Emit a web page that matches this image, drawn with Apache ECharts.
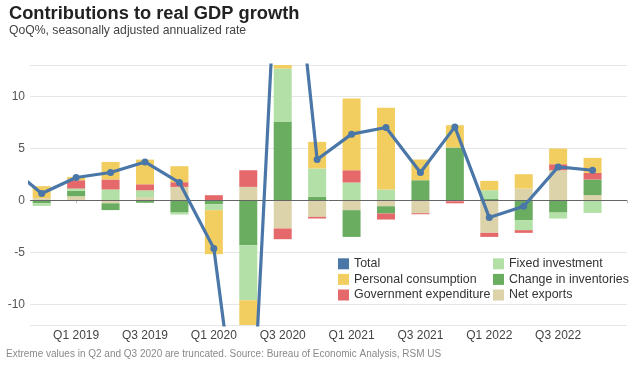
<!DOCTYPE html>
<html><head><meta charset="utf-8">
<script src="https://cdn.jsdelivr.net/npm/echarts@6/dist/echarts.min.js"></script>
<style>html,body{margin:0;padding:0;background:#fff}#c{width:639px;height:367px}</style>
</head><body><div id="c"></div>
<script>
const quarters = ['Q3 2018','Q4 2018','Q1 2019','Q2 2019','Q3 2019','Q4 2019','Q1 2020','Q2 2020','Q3 2020','Q4 2020','Q1 2021','Q2 2021','Q3 2021','Q4 2021','Q1 2022','Q2 2022','Q3 2022','Q4 2022','Q1 2023'];
const labeledQuarters = ['Q1 2019','Q3 2019','Q1 2020','Q3 2020','Q1 2021','Q3 2021','Q1 2022','Q3 2022'];
const total = [3.4, 0.64, 2.18, 2.66, 3.68, 1.7, -4.65, -29.9, 35.3, 3.91, 6.35, 6.99, 2.66, 7.05, -1.67, -0.58, 3.2, 2.88, null];
const personalConsumption = [null, 1.15, 0.32, 1.69, 2.37, 1.54, -4.23, -23.2, 26.4, 2.56, 6.9, 7.85, 1.99, 2.14, 0.9, 1.38, 1.51, 1.44, null];
const governmentExpenditure = [null, 0, 0.8, 0.96, 0.58, 0.45, 0.48, 1.6, -1.03, -0.16, 1.18, -0.58, -0.1, -0.2, -0.39, -0.26, 0.58, 0.64, null];
const fixedInvestment = [null, -0.25, 0.22, 1.03, 0.65, -0.19, -0.58, -5.29, 5.13, 2.73, 1.7, 1.03, 0, 0, 0.8, -0.96, -0.57, -1.22, null];
const changeInInventories = [null, -0.3, 0.52, -0.65, -0.25, -1.19, -0.38, -4.33, 7.53, 0.32, -2.57, -0.7, 1.92, 5.07, 0.16, -1.92, -1.19, 1.51, null];
const netExports = [null, 0.2, 0.38, -0.3, 0.3, 1.28, 0, 1.28, -2.72, -1.6, -0.96, -0.58, -1.25, -0.1, -3.14, 1.12, 2.88, 0.48, null];
const yTicks = [-10, -5, 0, 5, 10];

const FONT = 'Liberation Sans, Arial, sans-serif';
const colors = {
  'Total': '#4a77a8',
  'Personal consumption': '#f2cd60',
  'Government expenditure': '#e5696b',
  'Fixed investment': '#b2e0a6',
  'Change in inventories': '#6aad61',
  'Net exports': '#dcd3aa'
};
// value first, quarter index second, so the value dimension is the stacked one
const pts = arr => arr.map((v, i) => [v, i]);
const tickIdx = quarters.map((q, i) => i).filter(i => i > 0);
const labelIdx = labeledQuarters.map(q => quarters.indexOf(q));

function barSeries(name, arr) {
  return {
    name, type: 'bar', stack: 'c', data: pts(arr), encode: { x: 1, y: 0 }, barWidth: 18,
    itemStyle: { color: colors[name] }, z: 2, clip: true
  };
}

const legendText = { fontFamily: FONT, fontSize: 12.4, color: '#333', lineHeight: 15.6 };
const chart = echarts.init(document.getElementById('c'), null, { renderer: 'canvas' });
chart.setOption({
  animation: false,
  textStyle: { fontFamily: FONT },
  title: [
    { text: 'Contributions to real GDP growth', left: 9, top: 5, padding: 0,
      textStyle: { fontFamily: FONT, fontSize: 18.3, fontWeight: 'bold', color: '#222' } },
    { text: 'QoQ%, seasonally adjusted annualized rate', left: 9, top: 25, padding: 0,
      textStyle: { fontFamily: FONT, fontSize: 12.2, fontWeight: 'normal', color: '#444' } },
    { text: 'Extreme values in Q2 and Q3 2020 are truncated. Source: Bureau of Economic Analysis, RSM US', left: 6, top: 349, padding: 0,
      textStyle: { fontFamily: FONT, fontSize: 10, fontWeight: 'normal', color: '#8a8a8a' } }
  ],
  legend: [
    { data: ['Total', 'Personal consumption', 'Government expenditure'], orient: 'vertical',
      left: 338, top: 256, padding: 0, icon: 'rect', itemWidth: 11, itemHeight: 11, itemGap: 0,
      textStyle: legendText },
    { data: ['Fixed investment', 'Change in inventories', 'Net exports'], orient: 'vertical',
      left: 493, top: 256, padding: 0, icon: 'rect', itemWidth: 11, itemHeight: 11, itemGap: 0,
      textStyle: legendText }
  ],
  grid: { left: 30, right: 12, top: 65, bottom: 42 },
  xAxis: {
    type: 'value', min: 0.66, max: 18,
    axisLine: { show: false }, splitLine: { show: false },
    axisTick: { show: true, length: 3, lineStyle: { color: '#bbb' }, customValues: tickIdx },
    axisLabel: { customValues: labelIdx, formatter: v => quarters[Math.round(v)], color: '#444',
      fontSize: 12, fontFamily: FONT, margin: 5 }
  },
  yAxis: {
    type: 'value', min: -12, max: 13,
    axisLine: { show: false }, axisTick: { show: false },
    splitLine: { lineStyle: { color: '#e6e6e6' } },
    axisLabel: { customValues: yTicks, color: '#555', fontSize: 12, fontFamily: FONT, margin: 5 }
  },
  series: [
    barSeries('Net exports', netExports),
    barSeries('Change in inventories', changeInInventories),
    barSeries('Fixed investment', fixedInvestment),
    barSeries('Government expenditure', governmentExpenditure),
    barSeries('Personal consumption', personalConsumption),
    {
      name: 'Total', type: 'line', data: pts(total), encode: { x: 1, y: 0 }, z: 5, clip: true,
      lineStyle: { color: colors['Total'], width: 3.2 }, itemStyle: { color: colors['Total'] },
      symbol: 'circle', symbolSize: 7, showSymbol: true,
      markLine: { silent: true, symbol: 'none', label: { show: false }, z: 3,
        lineStyle: { color: '#666', type: 'solid', width: 1 }, data: [{ yAxis: 0 }] }
    }
  ]
});
</script></body></html>
